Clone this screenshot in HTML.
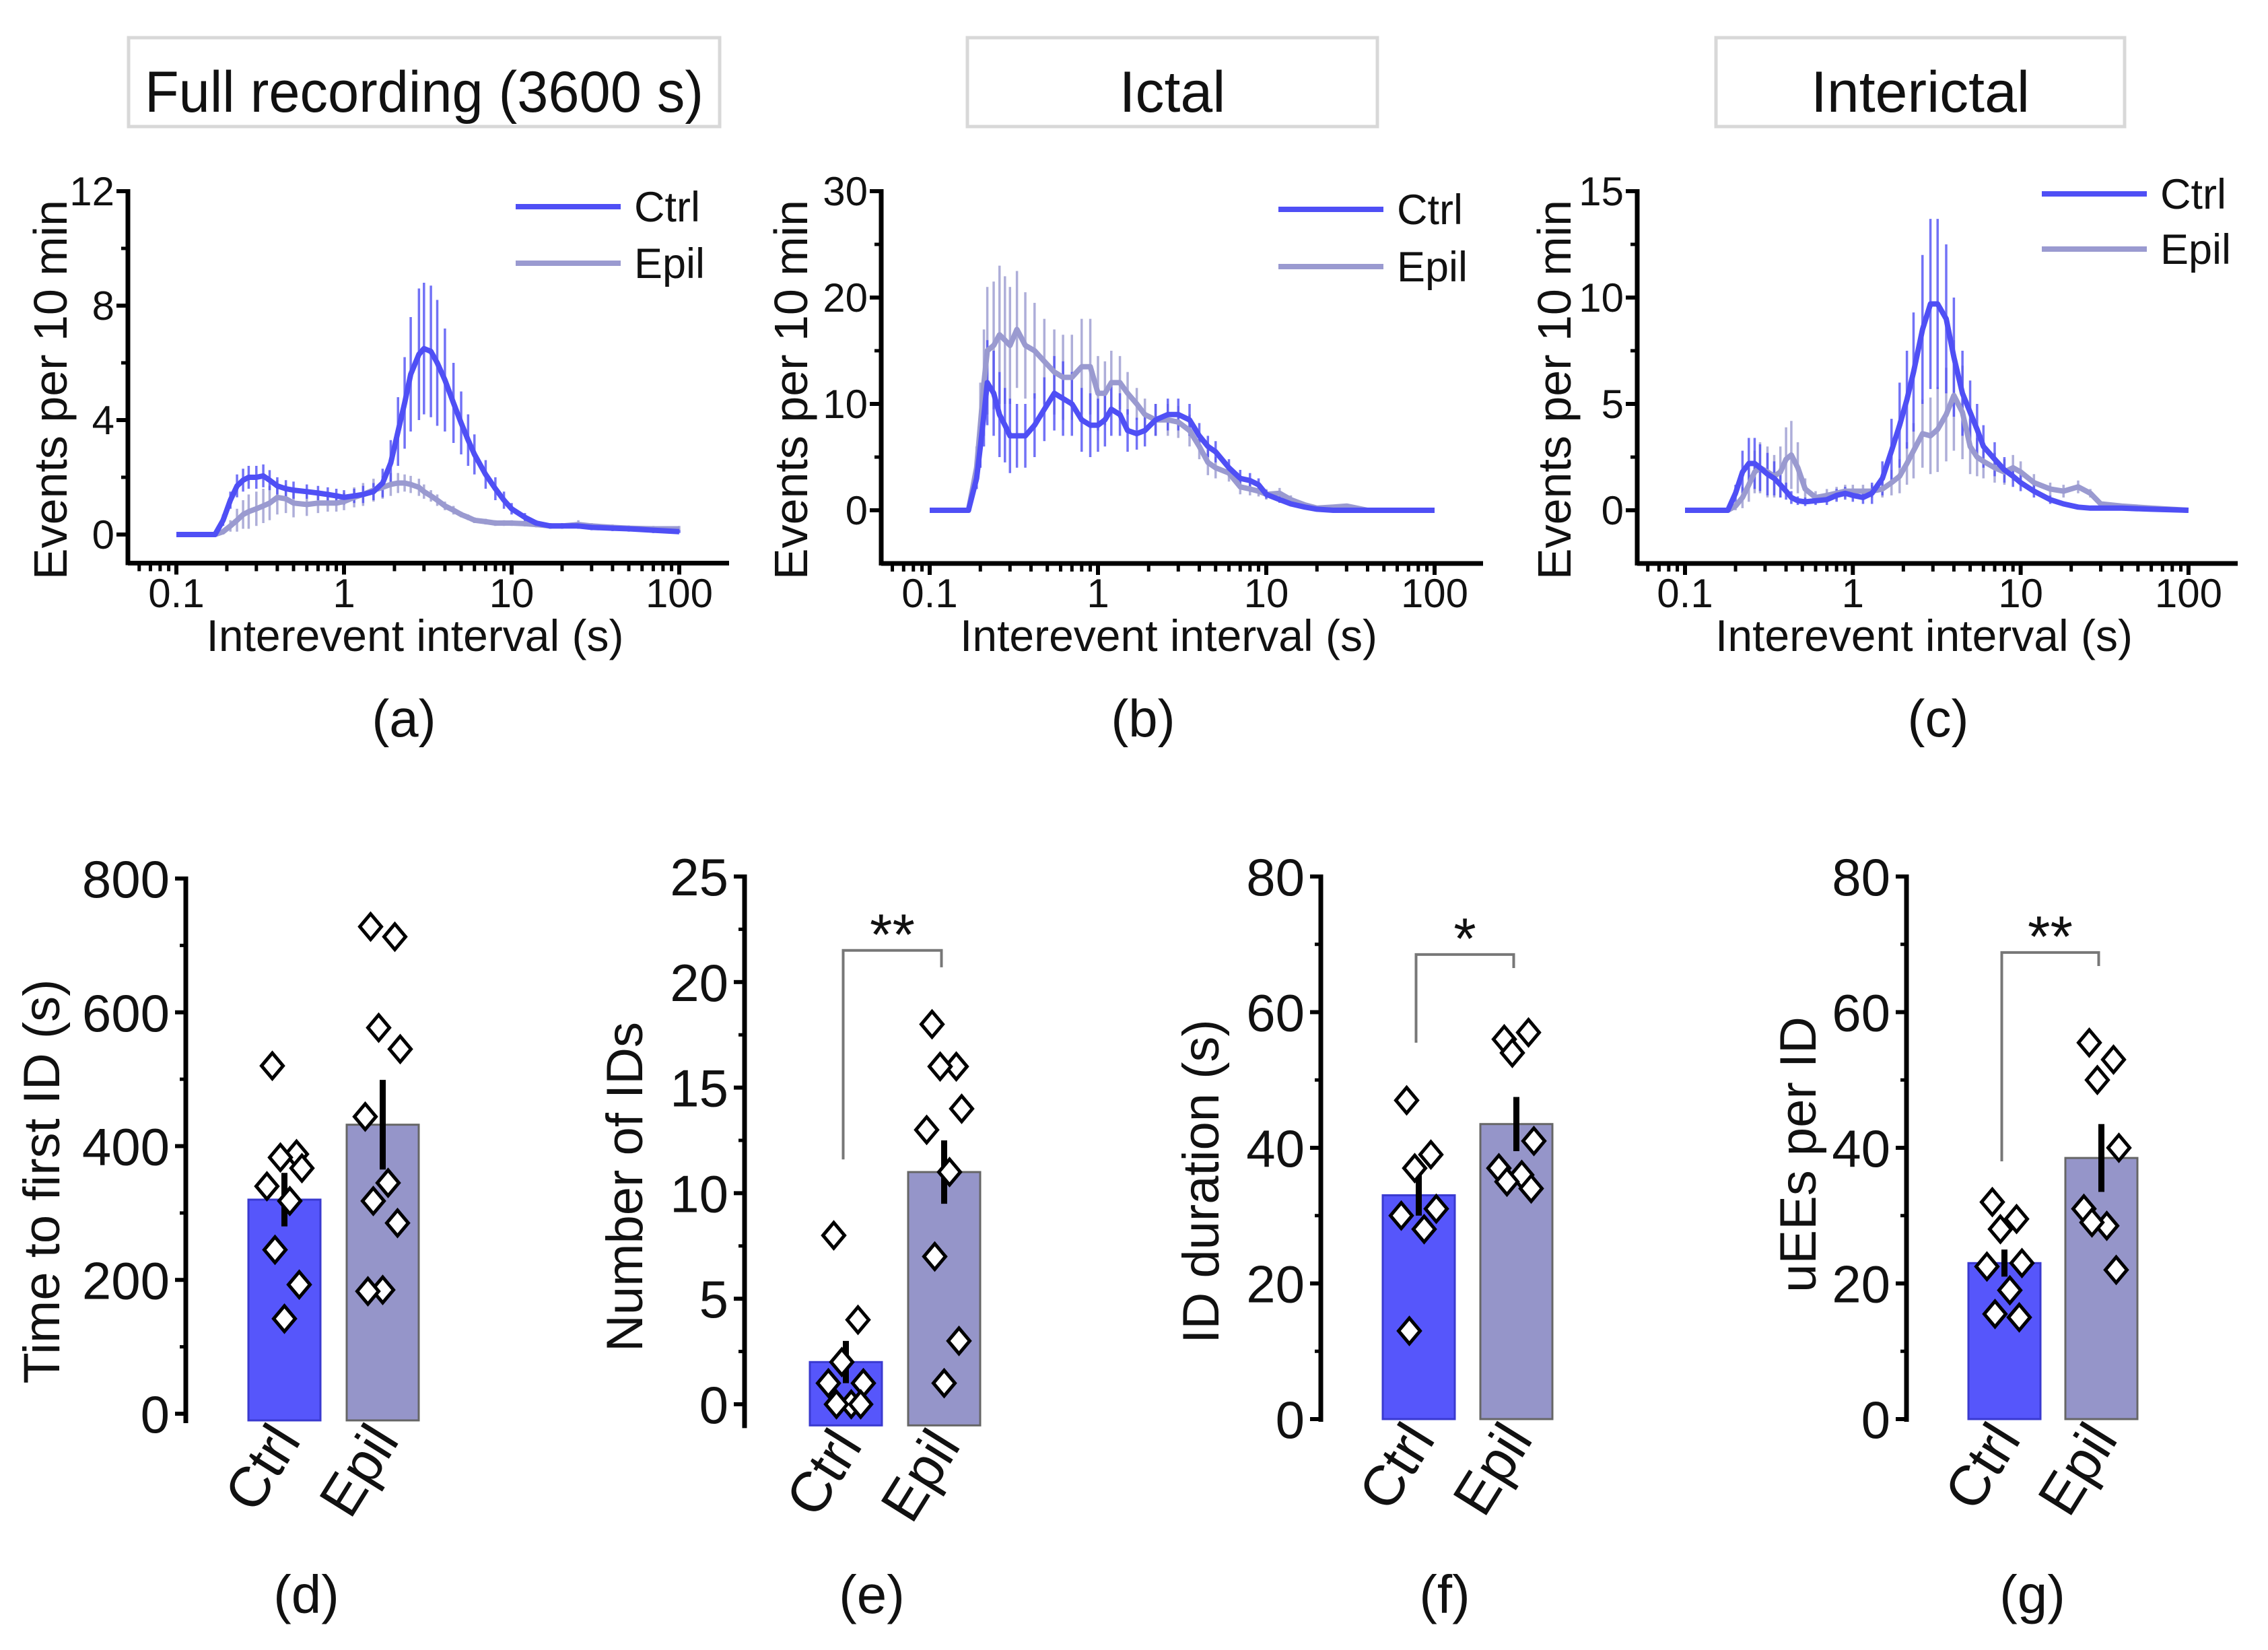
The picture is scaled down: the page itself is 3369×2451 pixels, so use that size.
<!DOCTYPE html>
<html><head><meta charset="utf-8"><style>
html,body{margin:0;padding:0;background:#fff}
svg{display:block}
text{font-family:"Liberation Sans",sans-serif;fill:#111}
</style></head><body>
<svg id="fig" xmlns="http://www.w3.org/2000/svg" width="3369" height="2451" viewBox="0 0 3369 2451"></svg>
<script>
// ---------- Data: histogram panels ----------
const aX = [0.1,0.17,0.19,0.21,0.23,0.25,0.27,0.3,0.33,0.36,0.4,0.45,0.5,0.6,0.7,0.8,0.9,1,1.15,1.3,1.5,1.7,1.9,2.1,2.3,2.5,2.8,3,3.3,3.6,4,4.5,5,5.5,6,7,8,9,10,12,14,17,20,25,30,40,50,70,100];
const aCtrl = [0,0,0.5,1.2,1.7,1.9,2.0,2.0,2.05,1.9,1.7,1.6,1.55,1.5,1.45,1.4,1.35,1.3,1.35,1.4,1.5,1.8,2.5,3.6,4.6,5.6,6.3,6.5,6.4,6.0,5.4,4.6,3.9,3.3,2.8,2.1,1.6,1.2,0.9,0.6,0.4,0.3,0.3,0.3,0.25,0.22,0.2,0.15,0.1];
const aCtrlSem = [0,0,0.2,0.3,0.4,0.4,0.4,0.4,0.4,0.35,0.3,0.3,0.3,0.25,0.25,0.25,0.25,0.25,0.25,0.3,0.3,0.5,0.8,1.2,1.6,2.0,2.3,2.3,2.3,2.2,1.8,1.4,1.1,0.9,0.7,0.5,0.4,0.3,0.2,0.15,0.1,0.1,0.1,0.1,0.1,0.1,0.1,0.1,0.05];
const aEpil = [0,0,0.1,0.3,0.5,0.7,0.8,0.9,1.0,1.1,1.3,1.25,1.1,1.05,1.1,1.1,1.1,1.15,1.3,1.4,1.55,1.65,1.75,1.8,1.8,1.75,1.65,1.5,1.35,1.2,1.0,0.85,0.7,0.6,0.5,0.45,0.4,0.4,0.4,0.38,0.35,0.3,0.3,0.35,0.3,0.25,0.22,0.2,0.2];
const aEpilSem = [0,0,0.1,0.2,0.4,0.5,0.6,0.6,0.6,0.6,0.6,0.5,0.5,0.4,0.35,0.3,0.3,0.3,0.35,0.4,0.4,0.4,0.4,0.35,0.3,0.3,0.3,0.25,0.2,0.2,0.15,0.15,0.1,0.1,0.1,0.1,0.1,0.1,0.1,0.1,0.1,0.1,0.1,0.15,0.1,0.1,0.1,0.1,0.1];

const bX = [0.1,0.17,0.19,0.2,0.21,0.22,0.24,0.26,0.28,0.3,0.33,0.37,0.42,0.48,0.55,0.62,0.7,0.8,0.9,1,1.1,1.2,1.35,1.5,1.7,1.9,2.2,2.6,3,3.5,4,4.5,5,6,7,8,9,10,12,14,17,20,25,30,40,60,100];
const bCtrl = [0,0,3,6,9,12,11,9,8,7,7,7,8,9.5,11,10.5,10,8.5,8,8,8.5,9.5,9,7.5,7.2,7.5,8.5,9,9,8.5,7,6,5.5,4,3,2.8,2.4,1.5,1,0.6,0.3,0.1,0,0,0,0,0];
const bCtrlSem = [0,0,1,2,3,4,4,4,3.5,3.5,3,3,3,3,3.5,3.5,3,3,3,2.5,2.5,2.5,2,2,1.5,1.5,1.5,1.5,1.5,1.5,1.2,1,1,0.8,0.8,0.7,0.6,0.4,0.3,0.2,0.1,0.05,0,0,0,0,0];
const bEpil = [0,0,4,8,12,15,15.5,16.5,16,15.5,17,15.5,15,14,13,12.5,12.5,13.5,13.5,11,11,12,12,11,10,9,8.5,8.5,8.3,7.5,6,4.5,4,3.5,2.2,2,1.8,1.5,1.6,1,0.5,0.2,0.3,0.4,0,0,0];
const bEpilSem = [0,0,2,4,5,6,6,6.5,6,5.5,5.5,5,4.5,4,4,4,4,4.5,4.5,3.5,3,3,2.5,2,1.5,1.5,1.5,1.5,1.5,1.5,1.2,1.2,1,0.8,0.7,0.6,0.5,0.5,0.5,0.4,0.2,0.1,0.1,0.1,0,0,0];

const cX = [0.1,0.18,0.2,0.22,0.24,0.26,0.28,0.31,0.34,0.37,0.4,0.43,0.47,0.52,0.6,0.7,0.8,0.9,1,1.15,1.3,1.5,1.7,1.9,2.1,2.3,2.6,2.9,3.2,3.6,4,4.5,5,5.5,6,7,8,9,10,12,15,18,22,26,30,40,60,100];
const cCtrl = [0,0,0.8,1.8,2.2,2.2,2.0,1.7,1.5,1.2,0.9,0.6,0.45,0.4,0.45,0.5,0.7,0.8,0.7,0.6,0.8,1.5,2.8,4.0,5.2,6.5,8.5,9.7,9.7,9.0,7.2,5.5,4.6,3.8,3.0,2.4,1.9,1.6,1.3,0.9,0.5,0.3,0.15,0.1,0.1,0.1,0.05,0];
const cCtrlSem = [0,0,0.4,1,1.2,1.2,1.1,1,0.8,0.6,0.4,0.3,0.2,0.2,0.2,0.25,0.3,0.3,0.3,0.3,0.5,0.8,1.5,2,2.3,2.8,3.5,4,4,3.5,2.8,2,1.5,1.2,1,0.8,0.6,0.5,0.4,0.3,0.2,0.1,0.1,0.05,0.05,0.05,0.05,0];
const cEpil = [0,0,0.2,0.6,1.2,1.8,2.0,1.8,1.6,1.8,2.4,2.6,2.0,1.0,0.6,0.7,0.8,0.9,0.9,0.9,0.9,1.0,1.3,1.6,2.2,2.8,3.6,3.5,3.8,4.5,5.4,4.6,3.0,2.5,2.3,2.0,1.8,2.0,1.8,1.3,1.0,0.9,1.1,0.8,0.3,0.2,0.1,0];
const cEpilSem = [0,0,0.2,0.5,0.8,1,1.2,1.2,1,1.2,1.5,1.6,1.2,0.5,0.3,0.3,0.3,0.3,0.3,0.3,0.3,0.4,0.6,0.8,1,1.3,1.6,1.8,2,2.2,2.6,2.2,1.3,0.9,0.8,0.7,0.6,0.6,0.5,0.4,0.3,0.3,0.3,0.2,0.1,0.1,0.05,0];

// ---------- Data: bar panels ----------
const groups = ["Ctrl","Epil"];
const dMeans = [320, 432];
const dSems = [40, 67];
const dCtrlPts = [520, 388, 383, 367, 340, 318, 245, 193, 142];
const dEpilPts = [728, 713, 577, 545, 444, 345, 318, 285, 185, 183];
const dTicks = [0,200,400,600,800];
const eMeans = [2, 11];
const eSems = [1, 1.5];
const eCtrlPts = [8, 4, 2, 1, 1, 0, 0, 0];
const eEpilPts = [18, 16, 16, 14, 13, 11, 7, 3, 1];
const eTicks = [0,5,10,15,20,25];
const fMeans = [33, 43.5];
const fSems = [3, 4];
const fCtrlPts = [47, 39, 37, 31, 30, 28, 13];
const fEpilPts = [56, 57, 54, 41, 37, 36, 35, 34];
const fTicks = [0,20,40,60,80];
const gMeans = [23, 38.5];
const gSems = [2, 5];
const gCtrlPts = [32, 29.5, 28, 23, 22.5, 19, 15.5, 15];
const gEpilPts = [55.5, 53, 50, 40, 31, 28.5, 29, 22];
const gTicks = [0,20,40,60,80];

const NS = "http://www.w3.org/2000/svg";
const svg = document.getElementById("fig");
const CTRL_LINE = "#4f4ff5", EPIL_LINE = "#9a9ad0";
const CTRL_BAR = "#5656fb", EPIL_BAR = "#9595c9";
function el(tag, attrs, parent, txt){
  const e = document.createElementNS(NS, tag);
  for (const k in attrs) e.setAttribute(k, attrs[k]);
  if (txt !== undefined) e.textContent = txt;
  (parent || svg).appendChild(e);
  return e;
}

// ---------- Histogram panels ----------
function histPanel(p){
  const g = el("g", {});
  
  
  const xs = v => p.x01 + (Math.log10(v) + 1) * p.dec;
  const ys = v => p.y0 + (v / p.ymax) * (p.ytop - p.y0);
  const bottom = ys(p.ymin);
  const tb = el("rect", {x:p.box[0], y:56, width:p.box[1]-p.box[0], height:132, fill:"none", stroke:"#d8d8d8", "stroke-width":5}, g);
  
  
  const tt = el("text", {x:(p.box[0]+p.box[1])/2, y:166, "font-size":86, "text-anchor":"middle"}, g, p.title);
  if (p.titleLen) { tt.setAttribute("textLength", p.titleLen); tt.setAttribute("lengthAdjust", "spacingAndGlyphs"); }
  
  
  const series = [[p.ex, p.em, p.es, EPIL_LINE, 'epil'], [p.cx, p.cm, p.cs, CTRL_LINE, 'ctrl']];
  series.forEach(s => {
    const eg = el("g", {stroke:s[3], "stroke-width":3.5, opacity:0.8}, g);
    
    
    s[0].forEach((xv, i) => {
      if (s[2][i] > 0) el("line", {x1:xs(xv), x2:xs(xv), y1:ys(s[1][i]-s[2][i]), y2:ys(s[1][i]+s[2][i])}, eg);
    });
  });
  series.forEach(s => {
    const d = s[0].map((xv,i) => (i?"L":"M") + xs(xv).toFixed(1) + "," + ys(s[1][i]).toFixed(1)).join(" ");
    const pl = el("path", {d:d, fill:"none", stroke:s[3], "stroke-width":8, "stroke-linejoin":"round"}, g);
    
    
  });
  const ax = el("g", {stroke:"#000", "stroke-width":7, fill:"none"}, g);
  
  
  el("line", {x1:p.ax, x2:p.ax, y1:p.ytop-3, y2:bottom+3}, ax);
  el("line", {x1:p.ax, x2:p.axr, y1:bottom, y2:bottom}, ax);
  p.yMinor.forEach(v => el("line", {x1:p.ax-10, x2:p.ax, y1:ys(v), y2:ys(v), "stroke-width":5}, ax));
  p.yTicks.forEach(v => {
    el("line", {x1:p.ax-17, x2:p.ax, y1:ys(v), y2:ys(v), "stroke-width":6}, ax);
    const t = el("text", {x:p.ax-20, y:ys(v)+21, "font-size":60, "text-anchor":"end"}, g, String(v));
    
    
  });
  const xDec = [0.1,1,10,100];
  for (let dcd = -2; dcd <= 2; dcd++) for (let m = 1; m <= 9; m++) {
    const v = m * Math.pow(10, dcd);
    const px = xs(v);
    if (px < p.ax || px > p.axr) continue;
    el("line", {x1:px, x2:px, y1:bottom, y2:bottom + (m===1?17:12), "stroke-width":m===1?6:5}, ax);
  }
  xDec.forEach(v => {
    const t = el("text", {x:xs(v), y:902, "font-size":60, "text-anchor":"middle"}, g, String(v));
    
    
  });
  const xt = el("text", {x:(p.ax+p.axr)/2 - 20, y:967, "font-size":66, "text-anchor":"middle"}, g, "Interevent interval (s)");
  
  
  const yt = el("text", {x:0, y:0, "font-size":70, "text-anchor":"middle", transform:`translate(${p.ytx},579) rotate(-90)`}, g, "Events per 10 min");
  
  
  const lg = el("g", {}, g);
  
  
  [["Ctrl", CTRL_LINE, p.leg[2]], ["Epil", EPIL_LINE, p.leg[3]]].forEach(L => {
    const ln = el("line", {x1:p.leg[0], x2:p.leg[0]+156, y1:L[2], y2:L[2], stroke:L[1], "stroke-width":8}, lg);
    
    
    const lt = el("text", {x:p.leg[1], y:L[2]+22, "font-size":63}, lg, L[0]);
    
    
  });
  const pl = el("text", {x:p.lab, y:1094, "font-size":78, "text-anchor":"middle"}, g, p.letter);
  
  
}

histPanel({name:"panel-a-full-recording", title:"Full recording (3600 s)", titleLen:830, box:[191,1069],
  x01:262, dec:249, ax:190, axr:1083, y0:794, ytop:284, ymax:12, ymin:-1,
  yTicks:[0,4,8,12], yMinor:[2,6,10], ytx:99, leg:[766,942,307,391], lab:600, letter:"(a)",
  cx:aX, cm:aCtrl, cs:aCtrlSem, ex:aX, em:aEpil, es:aEpilSem});
histPanel({name:"panel-b-ictal", title:"Ictal", box:[1437,2046],
  x01:1381, dec:250, ax:1309, axr:2203, y0:758, ytop:284, ymax:30, ymin:-5,
  yTicks:[0,10,20,30], yMinor:[5,15,25], ytx:1199, leg:[1899,2075,311,396], lab:1698, letter:"(b)",
  cx:bX, cm:bCtrl, cs:bCtrlSem, ex:bX, em:bEpil, es:bEpilSem});
histPanel({name:"panel-c-interictal", title:"Interictal", box:[2549,3156],
  x01:2503, dec:249.3, ax:2432, axr:3324, y0:758, ytop:284, ymax:15, ymin:-2.5,
  yTicks:[0,5,10,15], yMinor:[2.5,7.5,12.5], ytx:2333, leg:[3033,3209,288,370], lab:2879, letter:"(c)",
  cx:cX, cm:cCtrl, cs:cCtrlSem, ex:cX, em:cEpil, es:cEpilSem});

// ---------- Bar panels ----------
function barPanel(p){
  const g = el("g", {});
  
  
  const ys = v => p.y0 + (v - 0) / p.ymax * (p.ytop - p.y0);
  const bottom = ys(p.ymin);
  const cols = [CTRL_BAR, EPIL_BAR];
  const means = p.means, sems = p.sems, pts = [p.cp, p.ep];
  groups.forEach((gname, i) => {
    const bx = p.bars[i];
    const r = el("rect", {x:bx, y:ys(means[i]), width:107, height:bottom - ys(means[i]), fill:cols[i], stroke:i? "#666":"#3a3ad0", "stroke-width":3}, g);
    
    
    const cx = bx + 53.5;
    const eb = el("line", {x1:cx, x2:cx, y1:ys(means[i]-sems[i]), y2:ys(means[i]+sems[i]), stroke:"#000", "stroke-width":9}, g);
    
    
    const jit = [-18, 18, -6, 26, -26, 8, -14, 22, 0, -22];
    pts[i].forEach((v, k) => {
      const px = cx + jit[k % jit.length], py = ys(v);
      const dm = el("path", {d:`M${px},${py-19} L${px+16},${py} L${px},${py+19} L${px-16},${py} Z`, fill:"#fff", stroke:"#000", "stroke-width":5}, g);
      
      
    });
    const cl = el("text", {x:0, y:0, "font-size":84, "text-anchor":"end", transform:`translate(${cx+26},${bottom+30}) rotate(-58)`}, g, gname);
    
    
  });
  const ax = el("g", {stroke:"#000", fill:"none"}, g);
  
  
  el("line", {x1:p.ax, x2:p.ax, y1:p.ytop-3, y2:bottom+4, "stroke-width":7}, ax);
  p.ticks.forEach((v, i) => {
    el("line", {x1:p.ax-16, x2:p.ax, y1:ys(v), y2:ys(v), "stroke-width":6}, ax);
    if (i < p.ticks.length - 1) { const mv = (v + p.ticks[i+1]) / 2; el("line", {x1:p.ax-9, x2:p.ax, y1:ys(mv), y2:ys(mv), "stroke-width":5}, ax); }
    const t = el("text", {x:p.ax-24, y:ys(v)+28, "font-size":78, "text-anchor":"end"}, g, String(v));
    
    
  });
  const yt = el("text", {x:0, y:0, "font-size":76, "text-anchor":"middle", transform:`translate(${p.ytx},${p.yty}) rotate(-90)`}, g, p.ytitle);
  
  
  if (p.sig) {
    const lx = p.bars[0] + 53.5 - 4, rx = p.bars[1] + 53.5 - 4;
    const br = el("path", {d:`M${lx},${ys(p.sig[0])} L${lx},${ys(p.sig[1])} L${rx},${ys(p.sig[1])} L${rx},${ys(p.sig[2])}`, fill:"none", stroke:"#777", "stroke-width":4}, g);
    
    
    const st = el("text", {x:(lx+rx)/2, y:ys(p.sig[1]) + 6, "font-size":86, "text-anchor":"middle"}, g, p.sigText);
    
    
  }
  const pl = el("text", {x:p.lab, y:2396, "font-size":80, "text-anchor":"middle"}, g, p.letter);
  
  
}

barPanel({name:"panel-d-time-to-first-id", ax:276, y0:2100, ytop:1305, ymax:800, ymin:-10, bars:[369,515],
  means:dMeans, sems:dSems, cp:dCtrlPts, ep:dEpilPts, ticks:dTicks, ytitle:"Time to first ID (s)", ytx:88, yty:1755, lab:455, letter:"(d)"});
barPanel({name:"panel-e-number-of-ids", ax:1106, y0:2086, ytop:1302, ymax:25, ymin:-1, bars:[1203,1349],
  means:eMeans, sems:eSems, cp:eCtrlPts, ep:eEpilPts, ticks:eTicks, ytitle:"Number of IDs", ytx:954, yty:1763, lab:1295, letter:"(e)",
  sig:[11.6, 21.5, 20.7], sigText:"**"});
barPanel({name:"panel-f-id-duration", ax:1962, y0:2108, ytop:1302, ymax:80, ymin:0, bars:[2054,2199],
  means:fMeans, sems:fSems, cp:fCtrlPts, ep:fEpilPts, ticks:fTicks, ytitle:"ID duration (s)", ytx:1810, yty:1755, lab:2146, letter:"(f)",
  sig:[55.5, 68.5, 66.5], sigText:"*"});
barPanel({name:"panel-g-uees-per-id", ax:2832, y0:2108, ytop:1302, ymax:80, ymin:0, bars:[2924,3068],
  means:gMeans, sems:gSems, cp:gCtrlPts, ep:gEpilPts, ticks:gTicks, ytitle:"uEEs per ID", ytx:2697, yty:1715, lab:3019, letter:"(g)",
  sig:[38, 68.8, 66.8], sigText:"**"});
</script>
</body></html>
